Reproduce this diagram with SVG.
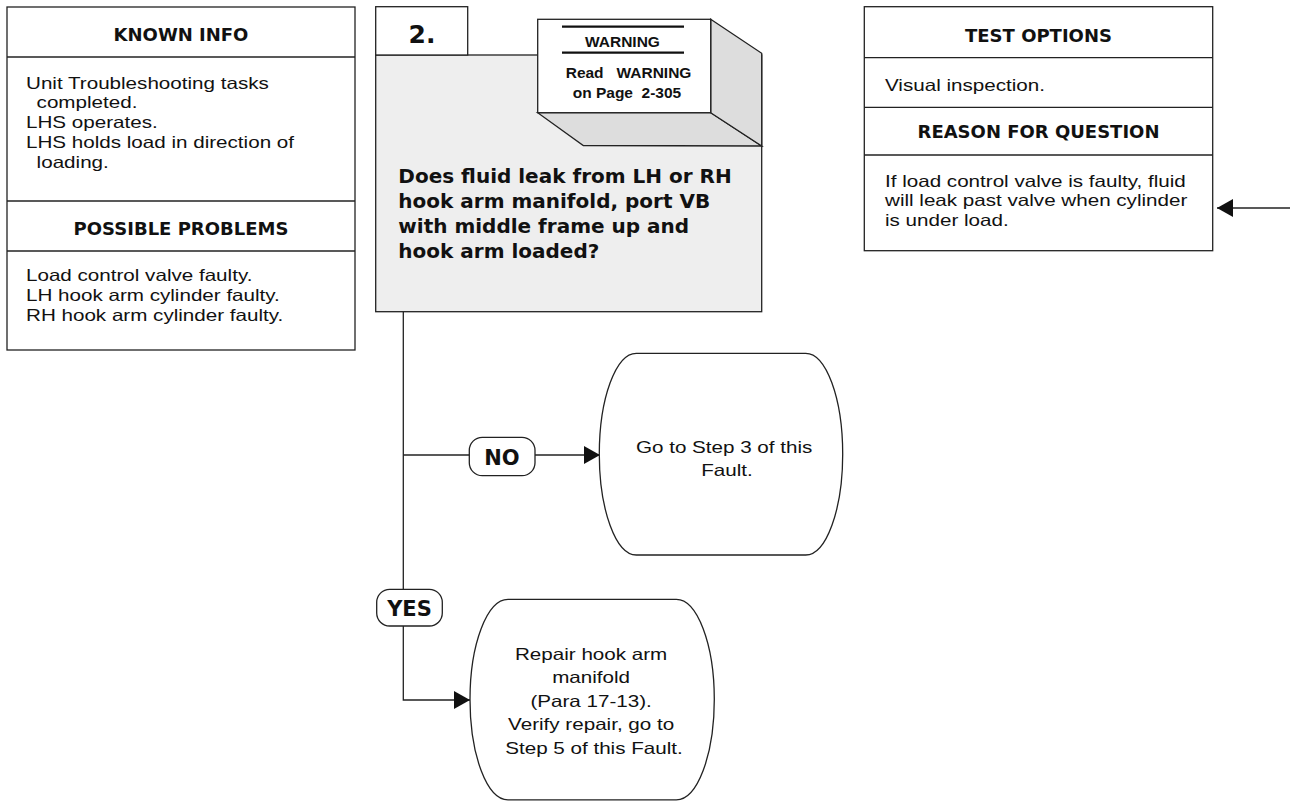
<svg xmlns="http://www.w3.org/2000/svg" width="1290" height="801" viewBox="0 0 1290 801">
  <style>
    .box { fill: #ffffff; stroke: #222222; stroke-width: 1.3; }
    .panel { fill: #eeeeee; stroke: #222222; stroke-width: 1.3; }
    .face { fill: #dddddd; stroke: #222222; stroke-width: 1.3; }
    .rule { stroke: #222222; stroke-width: 1.3; fill: none; }
    .bar { stroke: #111111; stroke-width: 2.2; }
    .hd { font-family: "DejaVu Sans", "Liberation Sans", sans-serif; font-weight: bold; font-size: 18px; fill: #111111; text-anchor: middle; }
    .bd { font-family: "Liberation Sans", Arial, sans-serif; font-size: 16.5px; fill: #111111; }
    .q { font-family: "DejaVu Sans", "Liberation Sans", sans-serif; font-weight: bold; font-size: 20px; fill: #111111; }
    .num { font-family: "DejaVu Sans", "Liberation Sans", sans-serif; font-weight: bold; font-size: 25px; fill: #111111; text-anchor: middle; }
    .warn { font-family: "Liberation Sans", Arial, sans-serif; font-weight: bold; font-size: 15.5px; fill: #111111; }
    .lbl { font-family: "DejaVu Sans", "Liberation Sans", sans-serif; font-weight: bold; font-size: 21px; fill: #111111; text-anchor: middle; }
    .mid { text-anchor: middle; }
    .wire { stroke: #222222; stroke-width: 1.3; fill: none; }
  </style>
  <defs>
    <marker id="ah" markerWidth="16" markerHeight="18" refX="16" refY="9" orient="auto" markerUnits="userSpaceOnUse">
      <path d="M0,0 L16,9 L0,18 Z" fill="#111111"/>
    </marker>
  </defs>

  <rect width="1290" height="801" fill="#ffffff"/>

  <!-- connectors -->
  <g id="connectors">
    <path class="wire" d="M403.3,311.7 V700 H470" marker-end="url(#ah)"/>
    <path class="wire" d="M403.3,455 H600" marker-end="url(#ah)"/>
    <path class="wire" d="M1290,208 H1217" marker-end="url(#ah)"/>
  </g>

  <!-- known info / possible problems -->
  <g id="known-info">
    <rect class="box" x="7" y="7" width="348" height="343"/>
    <line class="rule" x1="7" y1="57" x2="355" y2="57"/>
    <line class="rule" x1="7" y1="201" x2="355" y2="201"/>
    <line class="rule" x1="7" y1="251" x2="355" y2="251"/>
    <text class="hd" x="181" y="41">KNOWN INFO</text>
    <text class="bd" transform="translate(26,88.5) scale(1.25,1)">
      <tspan x="0" y="0">Unit Troubleshooting tasks</tspan>
      <tspan x="8.5" y="20">completed.</tspan>
      <tspan x="0" y="40">LHS operates.</tspan>
      <tspan x="0" y="60">LHS holds load in direction of</tspan>
      <tspan x="8.5" y="80">loading.</tspan>
    </text>
    <text class="hd" x="181" y="235">POSSIBLE PROBLEMS</text>
    <text class="bd" transform="translate(26,281) scale(1.25,1)">
      <tspan x="0" y="0">Load control valve faulty.</tspan>
      <tspan x="0" y="20">LH hook arm cylinder faulty.</tspan>
      <tspan x="0" y="40">RH hook arm cylinder faulty.</tspan>
    </text>
  </g>

  <!-- step 2 question -->
  <g id="step-2">
    <rect class="panel" x="375.7" y="55" width="386" height="256.7"/>
    <rect class="box" x="375.7" y="6.7" width="92" height="48.3"/>
    <text class="num" x="422" y="43.3">2.</text>
    <text class="q">
      <tspan x="398.3" y="183">Does fluid leak from LH or RH</tspan>
      <tspan x="398.3" y="208">hook arm manifold, port VB</tspan>
      <tspan x="398.3" y="233">with middle frame up and</tspan>
      <tspan x="398.3" y="258">hook arm loaded?</tspan>
    </text>
  </g>

  <!-- warning block -->
  <g id="warning">
    <polygon class="face" points="537.7,112.7 710.7,112.7 761.7,146 583.3,145.5"/>
    <polygon class="face" points="710.7,19.3 761.7,53.3 761.7,146 710.7,112.7"/>
    <rect class="box" x="537.7" y="19.3" width="173" height="93.4"/>
    <line class="bar" x1="562" y1="26.7" x2="684" y2="26.7"/>
    <line class="bar" x1="562" y1="52.7" x2="684" y2="52.7"/>
    <text class="warn" x="585" y="46.5">WARNING</text>
    <text class="warn" x="565.7" y="78" xml:space="preserve">Read   WARNING</text>
    <text class="warn" x="572.7" y="98" xml:space="preserve">on Page  2-305</text>
  </g>

  <!-- test options / reason for question -->
  <g id="test-options">
    <rect class="box" x="864.3" y="6.7" width="348.4" height="244"/>
    <line class="rule" x1="864.3" y1="57.7" x2="1212.7" y2="57.7"/>
    <line class="rule" x1="864.3" y1="107.3" x2="1212.7" y2="107.3"/>
    <line class="rule" x1="864.3" y1="155" x2="1212.7" y2="155"/>
    <text class="hd" x="1038.5" y="42">TEST OPTIONS</text>
    <text class="bd" transform="translate(885,90.5) scale(1.25,1)">Visual inspection.</text>
    <text class="hd" x="1038.5" y="138">REASON FOR QUESTION</text>
    <text class="bd" transform="translate(885,186.5) scale(1.25,1)">
      <tspan x="0" y="0">If load control valve is faulty, fluid</tspan>
      <tspan x="0" y="20">will leak past valve when cylinder</tspan>
      <tspan x="0" y="40">is under load.</tspan>
    </text>
  </g>

  <!-- answer labels -->
  <g id="label-no">
    <rect class="box" x="469.3" y="437.3" width="65.7" height="38.4" rx="13" ry="13"/>
    <text class="lbl" x="502" y="464.5">NO</text>
  </g>
  <g id="label-yes">
    <rect class="box" x="376.7" y="589.3" width="65.6" height="36.7" rx="13" ry="13"/>
    <text class="lbl" x="409.5" y="615.5">YES</text>
  </g>

  <!-- outcomes -->
  <g id="go-step-3">
    <rect class="box" x="599.3" y="353.3" width="243.4" height="201.7" rx="37" ry="100.8"/>
    <text class="bd mid" transform="translate(727,452.5) scale(1.25,1)">
      <tspan x="0" y="0">Go to Step 3 of this</tspan>
      <tspan x="0" y="24">Fault.</tspan>
    </text>
  </g>
  <g id="repair-manifold">
    <rect class="box" x="470" y="599.3" width="244.3" height="200.5" rx="38" ry="100.2"/>
    <text class="bd mid" transform="translate(594,660) scale(1.25,1)">
      <tspan x="0" y="0">Repair hook arm</tspan>
      <tspan x="0" y="23.5">manifold</tspan>
      <tspan x="0" y="47">(Para 17-13).</tspan>
      <tspan x="0" y="70.5">Verify repair, go to</tspan>
      <tspan x="0" y="94">Step 5 of this Fault.</tspan>
    </text>
  </g>
</svg>
